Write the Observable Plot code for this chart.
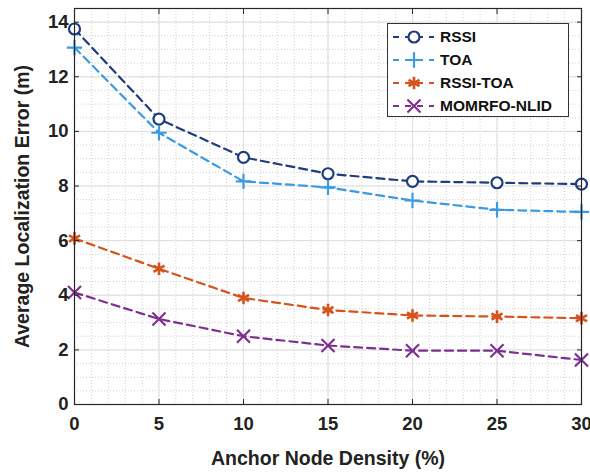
<!DOCTYPE html>
<html><head><meta charset="utf-8">
<script src="https://cdn.jsdelivr.net/npm/d3@7"></script>
<script src="https://cdn.jsdelivr.net/npm/@observablehq/plot@0.6"></script>
<style>
body{margin:0;background:#fff;font-family:"Liberation Sans",Arial,sans-serif}
#wrap{position:relative;width:590px;height:472px}
#legend{position:absolute;left:387px;top:23px;width:180px;height:92px;border:1px solid #333;background:#fff}
.row{position:absolute;left:2px;height:22px;display:flex;align-items:center}
.row span{font-weight:bold;font-size:15.5px;color:#111;margin-left:4px}
</style></head><body><div id="wrap"></div>
<script>
const density = [0, 5, 10, 15, 20, 25, 30];
const rssi = [13.75, 10.45, 9.05, 8.45, 8.17, 8.12, 8.07];
const toa = [13.07, 9.95, 8.17, 7.95, 7.47, 7.13, 7.05];
const rssiToa = [6.08, 4.97, 3.9, 3.46, 3.26, 3.22, 3.16];
const momrfo = [4.1, 3.13, 2.5, 2.16, 1.97, 1.97, 1.63];
const seriesNames = ["RSSI", "TOA", "RSSI-TOA", "MOMRFO-NLID"];
const seriesColors = ["#1f3d7c", "#3b9be0", "#d6541c", "#7e3090"];
const seriesSymbols = ["circle", "plus", "asterisk", "times"];
const xTicks = [0, 5, 10, 15, 20, 25, 30];
const yTicks = [0, 2, 4, 6, 8, 10, 12, 14];
const xLabel = "Anchor Node Density (%)";
const yLabel = "Average Localization Error (m)";

const seriesValues = [rssi, toa, rssiToa, momrfo];
const data = seriesNames.flatMap((s, i) => density.map((d, j) => ({x: d, y: seriesValues[i][j], series: s})));
const symR = {"RSSI": 5.5, "TOA": 5, "RSSI-TOA": 6, "MOMRFO-NLID": 6};
const symW = {"RSSI": 2.2, "TOA": 2.2, "RSSI-TOA": 2.6, "MOMRFO-NLID": 2.2};

const chart = Plot.plot({
  width: 590, height: 472,
  marginLeft: 74, marginRight: 9, marginTop: 8, marginBottom: 68,
  style: {fontFamily: '"Liberation Sans", Arial, sans-serif', fontWeight: "bold", fontSize: "17px", color: "#222", background: "#fff"},
  x: {domain: [0, 30]},
  y: {domain: [0, 14.5]},
  color: {domain: seriesNames, range: seriesColors},
  symbol: {domain: seriesNames, range: seriesSymbols},
  marks: [
    Plot.gridX({ticks: d3.range(0, 31, 1), stroke: "#999", strokeOpacity: 0.45, strokeDasharray: "1,2"}),
    Plot.gridY({ticks: d3.range(0, 14.5, 0.5), stroke: "#999", strokeOpacity: 0.45, strokeDasharray: "1,2"}),
    Plot.gridX({ticks: xTicks, stroke: "#dedede", strokeOpacity: 1}),
    Plot.gridY({ticks: yTicks, stroke: "#dedede", strokeOpacity: 1}),
    Plot.line(data, {x: "x", y: "y", z: "series", stroke: "series", strokeWidth: 2.2, strokeDasharray: "8,5"}),
    ...seriesNames.map(s => Plot.dot(data.filter(d => d.series === s), {x: "x", y: "y", symbol: "series", stroke: "series", fill: s === "RSSI" ? "white" : "none", r: symR[s], strokeWidth: symW[s]})),
    Plot.frame({stroke: "#262626", strokeWidth: 1.2}),
    Plot.axisX({ticks: xTicks, tickSize: 0, tickPadding: 12, label: xLabel, labelAnchor: "center", labelOffset: 60, labelArrow: "none"}),
    Plot.axisX({ticks: xTicks, tickSize: -5, tickFormat: () => "", label: null, stroke: "#262626"}),
    Plot.axisX({ticks: xTicks, anchor: "top", tickSize: -5, tickFormat: () => "", label: null, stroke: "#262626"}),
    Plot.axisY({ticks: yTicks, tickSize: 0, tickPadding: 6, label: yLabel, labelAnchor: "center", labelOffset: 59, labelArrow: "none"}),
    Plot.axisY({ticks: yTicks, tickSize: -5, tickFormat: () => "", label: null, stroke: "#262626"}),
    Plot.axisY({ticks: yTicks, anchor: "right", tickSize: -5, tickFormat: () => "", label: null, stroke: "#262626"})
  ]
});
const wrap = document.getElementById("wrap");
wrap.appendChild(chart);
d3.select(chart).selectAll('g[aria-label$="tick label"]').style("font-size", "18.5px").attr("fill", "#222");
d3.select(chart).selectAll('g[aria-label$="tick label"] text').style("font-size", "18.5px");
d3.select(chart).selectAll('g[aria-label$="axis label"] text')
  .style("font-size", "19.5px").attr("fill", "#222")
  .text(function() { return this.textContent.replace(/\s*[↑→←↓]\s*/g, "").trim(); });

const legend = document.createElement("div");
legend.id = "legend";
wrap.appendChild(legend);
const symMap = {circle: d3.symbolCircle, plus: d3.symbolPlus, asterisk: d3.symbolAsterisk, times: d3.symbolTimes};
seriesNames.forEach((s, i) => {
  const row = d3.select(legend).append("div").attr("class", "row").style("top", (2 + i * 23) + "px");
  const svg = row.append("svg").attr("width", 46).attr("height", 22);
  svg.append("line").attr("x1", 3).attr("x2", 44).attr("y1", 11).attr("y2", 11)
    .attr("stroke", seriesColors[i]).attr("stroke-width", 2.2).attr("stroke-dasharray", "6,6");
  svg.append("path").attr("d", d3.symbol(symMap[seriesSymbols[i]], Math.PI * symR[s] * symR[s])())
    .attr("transform", "translate(24,11)").attr("fill", s === "RSSI" ? "white" : "none")
    .attr("stroke", seriesColors[i]).attr("stroke-width", symW[s]);
  row.append("span").text(s);
});
</script></body></html>
